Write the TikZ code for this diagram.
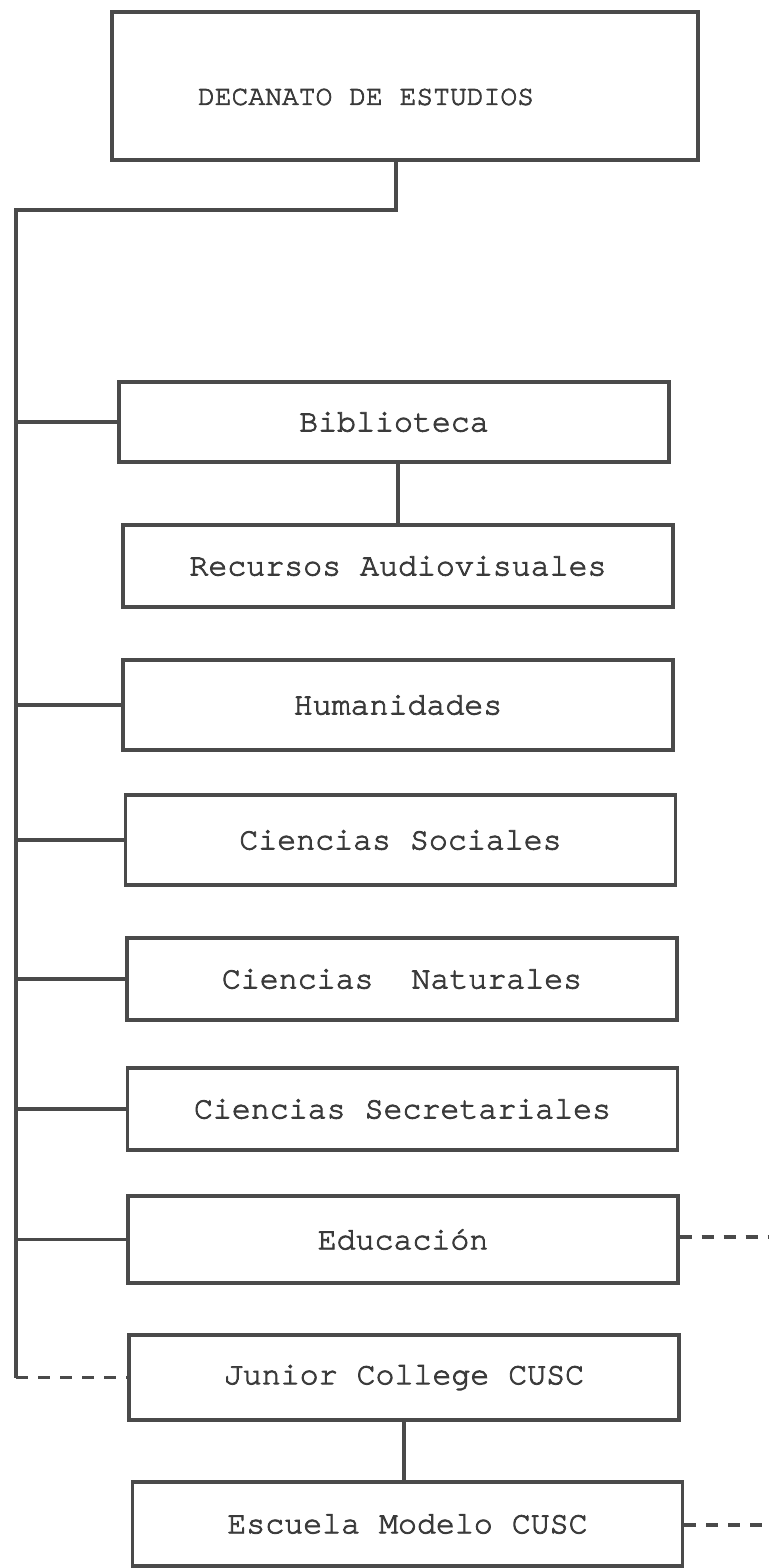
\documentclass[tikz,border=0pt]{standalone}
\usepackage{fontspec}
\setmonofont{texgyrecursor-regular.otf}[FakeBold=2.6]
\usepackage{tikz}
\usetikzlibrary{positioning, calc}

\definecolor{ink}{HTML}{4A4A4A}
\definecolor{type}{HTML}{3A3A3A}

\begin{document}
\begin{tikzpicture}[x=0.5pt, y=-0.5pt, line width=1.6pt, draw=ink,
    every node/.style={font=\ttfamily\fontsize{15.8}{18}\selectfont, text=type},
    unit/.style={draw=ink, rectangle, minimum width=275pt, minimum height=41pt, inner sep=0pt},
    link/.style={draw=ink, line width=1.6pt},
    weak/.style={draw=ink, line width=1.6pt, dash pattern=on 6pt off 5pt}]

    \useasboundingbox (0,0) rectangle (768,1568);

    \node[unit, minimum width=293pt, minimum height=74pt,
          label={[xshift=-19.5pt, yshift=-5.5pt, font=\ttfamily\fontsize{14}{16}\selectfont]center:DECANATO DE ESTUDIOS}]
                                       (dec) at (405,86)     {};
    \node[unit, minimum height=40pt]   (bib) at (394,422)    {Biblioteca};
    \node[unit]                        (rec) at (398,566)    {Recursos Audiovisuales};
    \node[unit, minimum height=45pt]   (hum) at (398,705)    {Humanidades};
    \node[unit, minimum height=45pt]   (soc) at (400.5,840)  {Ciencias Sociales};
    \node[unit]                        (nat) at (402,979)    {Ciencias\ \ Naturales};
    \node[unit]                        (sec) at (402.5,1109) {Ciencias Secretariales};
    \node[unit, minimum height=43.5pt] (edu) at (403,1239.5) {Educación};
    \node[unit, minimum height=42.5pt] (jun) at (404,1377.5) {Junior College CUSC};
    \node[unit, minimum height=42pt]   (esc) at (407.5,1524) {Escuela Modelo CUSC};

    \coordinate (drop) at (396,210);
    \coordinate (top)  at (16,210);
    \coordinate (foot) at (16,1377.5);
    \coordinate (eduout) at (768,1237);
    \coordinate (escout) at (768,1525);

    \draw[link] (dec.south -| drop) -- (drop) -- (top) -- (foot);
    \draw[link] (top |- bib.west) -- (bib.west);
    \draw[link] (top |- hum.west) -- (hum.west);
    \draw[link] (top |- soc.west) -- (soc.west);
    \draw[link] (top |- nat.west) -- (nat.west);
    \draw[link] (top |- sec.west) -- (sec.west);
    \draw[link] (top |- edu.west) -- (edu.west);
    \draw[link] (bib.south -| rec.north) -- (rec.north);
    \draw[link] (jun.south) -- (jun.south |- esc.north);
    \draw[weak] (foot) -- (jun.west);
    \draw[weak] (edu.east |- eduout) -- (eduout);
    \draw[weak] (esc.east |- escout) -- (escout);
\end{tikzpicture}
\end{document}
